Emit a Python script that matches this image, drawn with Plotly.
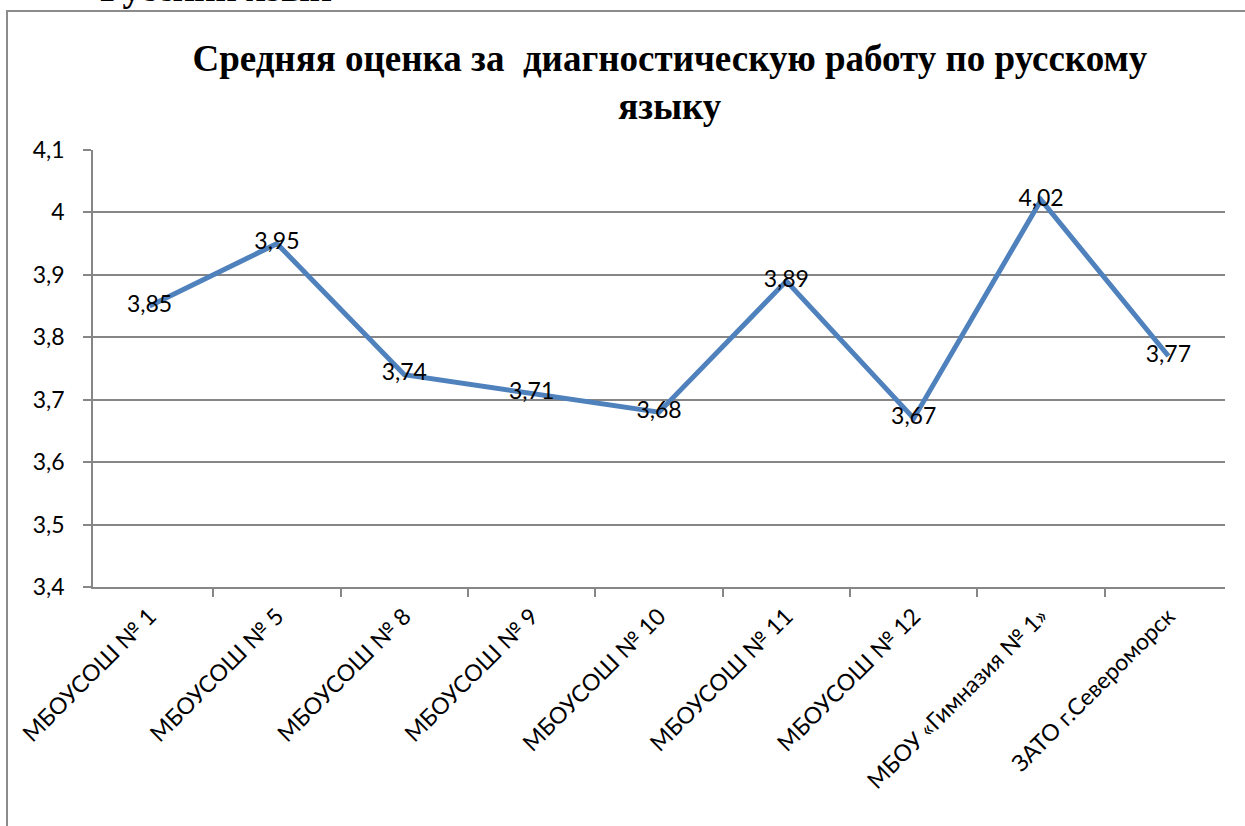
import plotly.graph_objects as go

schools = ["МБОУСОШ № 1", "МБОУСОШ № 5", "МБОУСОШ № 8", "МБОУСОШ № 9",
           "МБОУСОШ № 10", "МБОУСОШ № 11", "МБОУСОШ № 12",
           "МБОУ «Гимназия № 1»", "ЗАТО г.Североморск"]
scores = [3.85, 3.95, 3.74, 3.71, 3.68, 3.89, 3.67, 4.02, 3.77]
score_labels = [f"{v:.2f}".replace(".", ",") for v in scores]

label_font = dict(family="Lato, 'Noto Sans', sans-serif", size=23, color="black")
serif = "'Liberation Serif', 'Times New Roman', serif"

fig = go.Figure(go.Scatter(
    x=schools, y=scores, mode="lines+text",
    line=dict(color="#4F81BD", width=5),
    text=score_labels, textposition="middle center",
    textfont=label_font, cliponaxis=False, hoverinfo="skip"))

fig.update_layout(
    width=1245, height=826,
    margin=dict(l=93, r=20, t=150, b=239),
    paper_bgcolor="white", plot_bgcolor="white",
    showlegend=False, separators=", ",
    title=dict(text="<b>Средняя оценка за  диагностическую работу по русскому<br>языку</b>",
               font=dict(family=serif, size=37, color="black"),
               x=0.538, xanchor="center", xref="container",
               y=1 - 71 / 826, yanchor="middle", yref="container"),
    # heading of the page above the chart, mostly cut off by the top edge
    annotations=[dict(text="<b>Русский язык</b>", xref="paper", yref="paper",
                      x=(98 - 93) / 1132, xanchor="left",
                      y=(587 + 12) / 437, yanchor="middle",
                      showarrow=False, font=dict(family=serif, size=37, color="black"))],
    shapes=[dict(type="rect", xref="paper", yref="paper",
                 x0=(7 - 93) / 1132, x1=1.2, y0=-1.0, y1=(587 - 11) / 437,
                 line=dict(color="#8C8C8C", width=2), layer="below")],
)

fig.update_xaxes(type="category", tickson="boundaries", ticks="outside", ticklen=8,
                 tickcolor="#868686", tickwidth=1.5, showgrid=False,
                 showline=True, linecolor="#868686", linewidth=1.5,
                 tickangle=-45, tickfont=label_font, ticklabelstandoff=5)
fig.update_yaxes(range=[3.4, 4.1], dtick=0.1, ticks="outside", ticklen=8,
                 tickcolor="#868686", tickwidth=1.5,
                 showgrid=True, gridcolor="#868686", gridwidth=1.5,
                 showline=True, linecolor="#868686", linewidth=1.5,
                 zeroline=False, tickfont=label_font, ticklabelstandoff=14)

fig.write_html("out.html", config={"displayModeBar": False},
               post_script="document.body.style.margin='0';")
